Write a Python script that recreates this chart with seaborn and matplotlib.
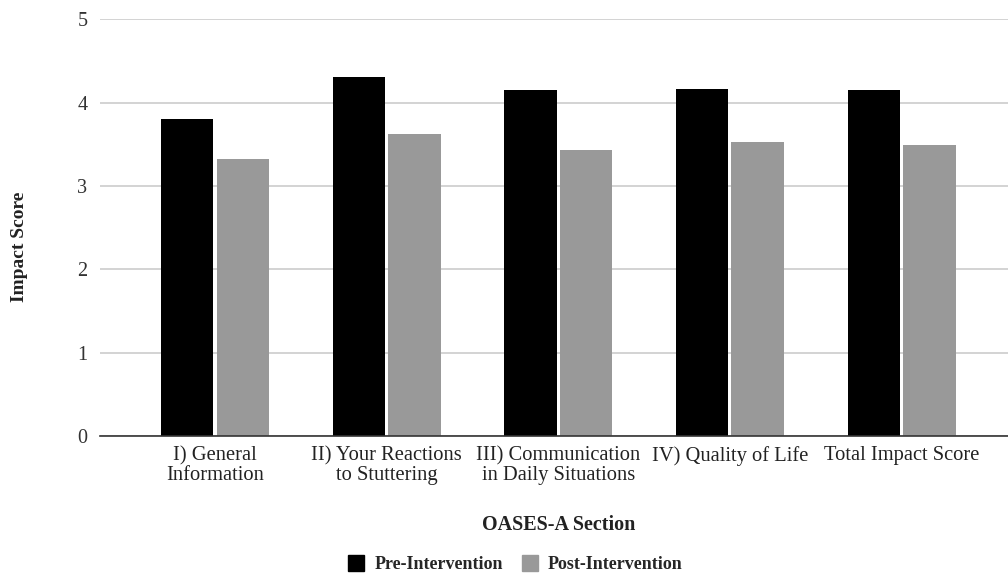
import matplotlib
matplotlib.use("Agg")
import matplotlib.pyplot as plt
from matplotlib.lines import Line2D
import seaborn as sns
import pandas as pd

sections = [
    "I) General\nInformation",
    "II) Your Reactions\nto Stuttering",
    "III) Communication\nin Daily Situations",
    "IV) Quality of Life",
    "Total Impact Score",
]
pre_scores = [3.81, 4.31, 4.15, 4.16, 4.15]
post_scores = [3.32, 3.63, 3.43, 3.53, 3.49]
series_names = ["Pre-Intervention", "Post-Intervention"]
series_colors = ["#000000", "#999999"]
y_ticks = [0, 1, 2, 3, 4, 5]

df = pd.DataFrame({
    "Section": sections * 2,
    "Score": pre_scores + post_scores,
    "Phase": [series_names[0]] * len(sections) + [series_names[1]] * len(sections),
})

sns.set_theme(style="white")
plt.rcParams["font.family"] = ["Liberation Serif", "DejaVu Serif"]

fig = plt.figure(figsize=(10.08, 5.73), dpi=100)
ax = fig.add_axes([0.0992, 0.239, 0.9008, 0.727])

sns.barplot(
    data=df, x="Section", y="Score", hue="Phase",
    palette=series_colors, hue_order=series_names,
    width=0.648, gap=0.056, ax=ax, legend=False,
    saturation=1, edgecolor="none",
)

ax.set_ylim(0, 5)
ax.set_xlim(-0.67, 4.62)
ax.set_yticks(y_ticks)
ax.set_yticklabels([str(t) for t in y_ticks], fontsize=14.5, color="#333333")
ax.tick_params(axis="y", length=0, pad=9)
ax.tick_params(axis="x", length=0, pad=7)
for lbl in ax.get_xticklabels():
    lbl.set_fontsize(14.8)
    lbl.set_color("#222222")
    lbl.set_linespacing(1.08)

ax.yaxis.grid(True, color="#cccccc", linewidth=1.2)
ax.set_axisbelow(True)
for side in ["top", "right", "left"]:
    ax.spines[side].set_visible(False)
ax.spines["bottom"].set_color("#333333")
ax.spines["bottom"].set_linewidth(1.2)

ax.set_xlabel("")
ax.set_ylabel("")
fig.text(0.019, 0.569, "Impact Score", rotation=90, ha="center", va="center",
         fontsize=14, fontweight="bold", color="#222222")
fig.text(0.554, 0.0838, "OASES-A Section", ha="center", va="center",
         fontsize=14.5, fontweight="bold", color="#222222")

handles = [
    Line2D([0], [0], marker="s", linestyle="none", markersize=12,
           markerfacecolor=c, markeredgecolor=c)
    for c in series_colors
]
fig.legend(handles, series_names, loc="center", ncol=2,
           bbox_to_anchor=(0.511, 0.0150), frameon=False,
           prop={"size": 13, "weight": "bold"}, handletextpad=0.5,
           columnspacing=1.0, handlelength=1.0)

fig.savefig("out.png", dpi=100)
